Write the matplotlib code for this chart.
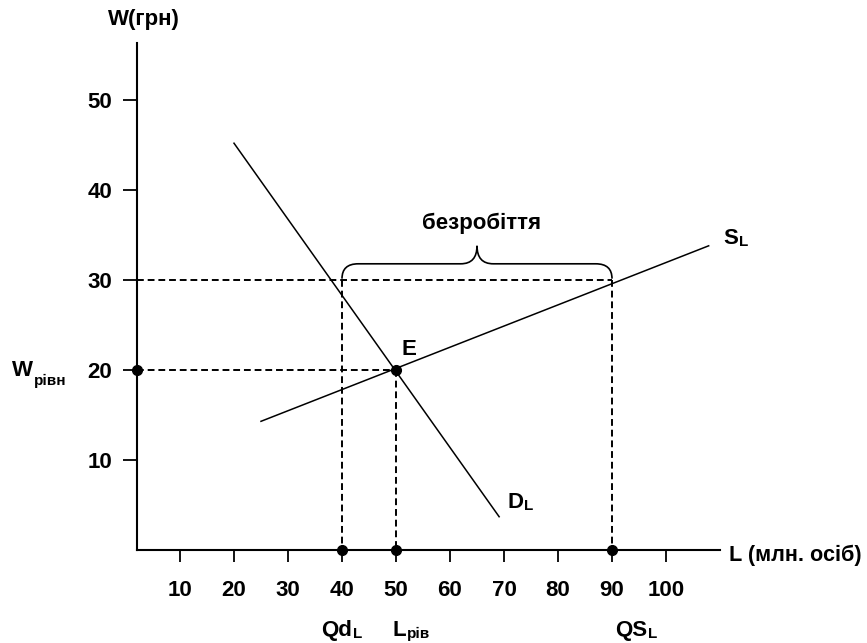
import matplotlib
matplotlib.use("Agg")
import matplotlib.pyplot as plt
from matplotlib.path import Path
from matplotlib.patches import PathPatch

plt.rcParams['font.family'] = ['Liberation Sans', 'DejaVu Sans']
plt.rcParams['font.weight'] = 'bold'

# ---- data ----
x_ticks = [10, 20, 30, 40, 50, 60, 70, 80, 90, 100]
y_ticks = [10, 20, 30, 40, 50]
demand_L = [20.0, 69.1]
demand_W = [45.2, 3.7]
supply_L = [25.0, 107.9]
supply_W = [14.3, 33.8]
W_eq = 20
L_eq = 50
W_high = 30
Qd = 40
QS = 90

# axes extents
x_axis_start = 2.04
x_axis_end = 110
y_axis_end = 56.3

fig = plt.figure(figsize=(8.67, 6.43), dpi=100)
ax = fig.add_axes([0, 0, 1, 1])
ax.set_xlim(-23.33, 137.22)
ax.set_ylim(-10.33, 61.11)
ax.patch.set_alpha(0)

for s in ['top', 'right']:
    ax.spines[s].set_visible(False)
ax.spines['left'].set_position(('data', x_axis_start))
ax.spines['bottom'].set_position(('data', 0))
ax.spines['left'].set_bounds(0, y_axis_end)
ax.spines['bottom'].set_bounds(x_axis_start, x_axis_end)
for s in ['left', 'bottom']:
    ax.spines[s].set_linewidth(1.5)

fs = 16
sfs = 11

ax.set_xticks(x_ticks)
ax.set_xticklabels([str(v) for v in x_ticks], fontsize=fs, fontweight='bold')
ax.set_yticks(y_ticks)
ax.set_yticklabels([str(v) for v in y_ticks], fontsize=fs, fontweight='bold')
ax.tick_params(axis='x', direction='out', length=8.5, width=1.3, pad=13)
ax.tick_params(axis='y', direction='out', length=10, width=1.3, pad=8)

# curves
ax.plot(demand_L, demand_W, color='black', lw=1.1)
ax.plot(supply_L, supply_W, color='black', lw=1.1)

# dashed guides
dash = dict(color='black', lw=1.4, dashes=(3.5, 2))
ax.plot([x_axis_start, QS], [W_high, W_high], **dash)
ax.plot([Qd, Qd], [W_high, 0], **dash)
ax.plot([QS, QS], [W_high, 0], **dash)
ax.plot([x_axis_start, L_eq], [W_eq, W_eq], **dash)
ax.plot([L_eq, L_eq], [W_eq, 0], **dash)

# dots
ax.plot([x_axis_start, Qd, L_eq, QS, L_eq], [W_eq, 0, 0, 0, W_eq], 'o',
        color='black', ms=7, clip_on=False)

# brace
x0, x1 = Qd, QS
xm = (x0 + x1) / 2
yb, yh, yt = W_high + 0.15, W_high + 1.8, W_high + 3.8
r = 3.0
verts = [(x0, yb), (x0, yh), (x0 + r, yh),
         (xm - r, yh),
         (xm, yh), (xm, yt),
         (xm, yh), (xm + r, yh),
         (x1 - r, yh),
         (x1, yh), (x1, yb)]
codes = [Path.MOVETO, Path.CURVE3, Path.CURVE3,
         Path.LINETO,
         Path.CURVE3, Path.CURVE3,
         Path.CURVE3, Path.CURVE3,
         Path.LINETO,
         Path.CURVE3, Path.CURVE3]
ax.add_patch(PathPatch(Path(verts, codes), fill=False, lw=1.2, color='black'))


def label(x, y, main, sub=None, dy=1.9, ha='left'):
    t = ax.text(x, y, main, fontsize=fs, fontweight='bold', ha=ha, va='center')
    if sub:
        ax.annotate(sub, xy=(1, 0), xycoords=t, xytext=(0.3, dy),
                    textcoords='offset points', fontsize=sfs,
                    fontweight='bold', ha='left', va='baseline')
    return t


label(3.33, 58.9, 'W(грн)', ha='center')
label(-21.1, 20, 'W', 'рівн', dy=-3.0)
label(52.4, 22.3, 'E', ha='center')
label(70.7, 5.3, 'D', 'L')
label(110.6, 34.6, 'S', 'L')
label(65.9, 36.3, 'безробіття', ha='center')
label(36.2, -8.9, 'Qd', 'L')
label(49.4, -8.9, 'L', 'рів')
label(90.6, -8.9, 'QS', 'L')
ax.text(111.6, -0.56, 'L (млн. осіб)', fontsize=15.6, fontweight='bold',
        ha='left', va='center')

fig.savefig('out.png', dpi=100, facecolor='white')
